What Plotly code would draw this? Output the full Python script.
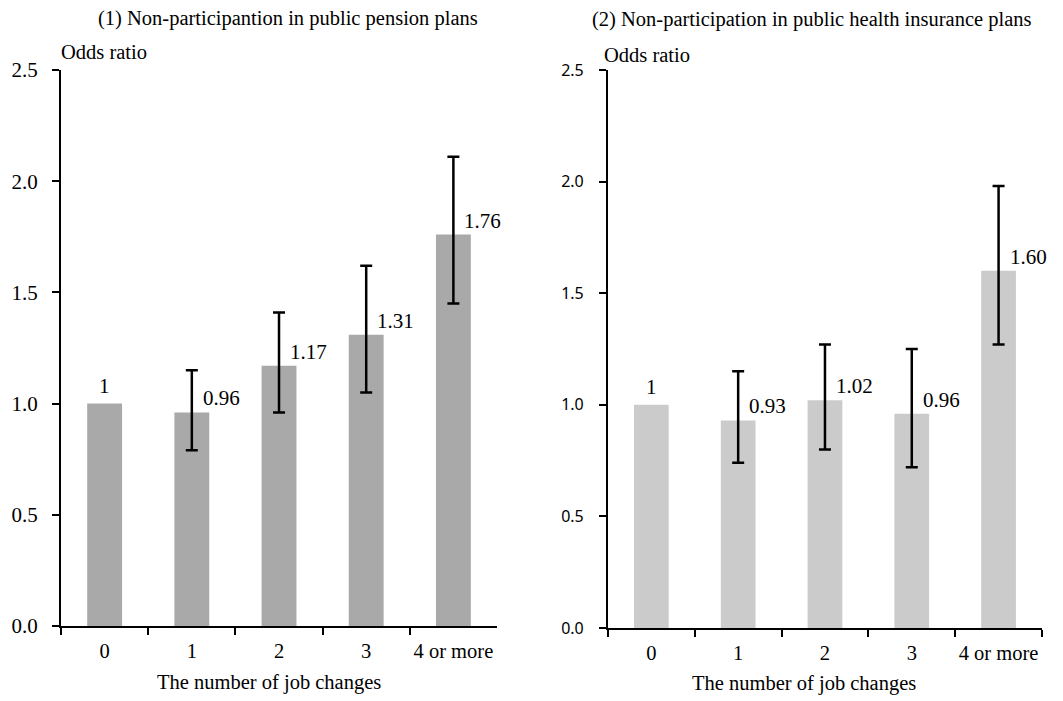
import plotly.graph_objects as go

categories = ["0", "1", "2", "3", "4 or more"]

pension_or = [1.00, 0.96, 1.17, 1.31, 1.76]
pension_hi = [None, 1.15, 1.41, 1.62, 2.11]
pension_lo = [None, 0.79, 0.96, 1.05, 1.45]
pension_labels = ["1", "0.96", "1.17", "1.31", "1.76"]

health_or = [1.00, 0.93, 1.02, 0.96, 1.60]
health_hi = [None, 1.15, 1.27, 1.25, 1.98]
health_lo = [None, 0.74, 0.80, 0.72, 1.27]
health_labels = ["1", "0.93", "1.02", "0.96", "1.60"]

y_ticks = [0.0, 0.5, 1.0, 1.5, 2.0, 2.5]
y_ticktext = ["0.0", "0.5", "1.0", "1.5", "2.0", "2.5"]

titles = ["(1) Non-participantion in public pension plans",
          "(2) Non-participation in public health insurance plans"]

SERIF = "Liberation Serif, Times New Roman, serif"
SANS = "Noto Sans, Liberation Sans, sans-serif"

fig = go.Figure()

panels = [
    (pension_or, pension_hi, pension_lo, pension_labels, "#a9a9a9", "x", "y"),
    (health_or, health_hi, health_lo, health_labels, "#cbcbcb", "x2", "y2"),
]

for vals, hi, lo, labels, color, xa, ya in panels:
    fig.add_trace(go.Bar(
        x=categories, y=vals, xaxis=xa, yaxis=ya,
        marker=dict(color=color, line=dict(width=0)),
        width=0.4, showlegend=False, hoverinfo="skip",
    ))
    ex, ey, ep, em = [], [], [], []
    for c, v, h, l in zip(categories, vals, hi, lo):
        if h is not None:
            ex.append(c)
            ey.append(v)
            ep.append(round(h - v, 4))
            em.append(round(v - l, 4))
    fig.add_trace(go.Scatter(
        x=ex, y=ey, xaxis=xa, yaxis=ya, mode="markers",
        marker=dict(size=1, opacity=0),
        error_y=dict(type="data", array=ep, arrayminus=em, symmetric=False,
                     color="black", thickness=2.5, width=6),
        showlegend=False, hoverinfo="skip",
    ))
    for i, (c, v, t) in enumerate(zip(categories, vals, labels)):
        if i == 0:
            fig.add_annotation(x=c, y=v, xref=xa, yref=ya, text=t, showarrow=False,
                               xanchor="center", yanchor="middle", yshift=18,
                               font=dict(family=SERIF, size=21, color="black"))
        else:
            fig.add_annotation(x=c, y=v, xref=xa, yref=ya, text=t, showarrow=False,
                               xanchor="left", yanchor="middle", xshift=9, yshift=14,
                               font=dict(family=SERIF, size=21, color="black"))

xcommon = dict(type="category", showline=True, linecolor="black", linewidth=2,
               ticks="outside", ticklen=7, tickwidth=2, tickcolor="black",
               tickson="boundaries", showgrid=False, zeroline=False, tickangle=0,
               tickfont=dict(family=SERIF, size=20.5, color="black"),
               ticklabelstandoff=5, range=[-0.5, 4.5], automargin=False)
ycommon = dict(range=[0, 2.5], tickvals=y_ticks, ticktext=y_ticktext,
               showline=True, linecolor="black", linewidth=2,
               ticks="outside", ticklen=7, tickwidth=1.5, tickcolor="black",
               showgrid=False, zeroline=False, automargin=False)

fig.update_layout(
    width=1063, height=701,
    margin=dict(l=0, r=0, t=0, b=0),
    paper_bgcolor="white", plot_bgcolor="white",
    xaxis=dict(domain=[0.0499, 0.4600], anchor="y", **xcommon),
    xaxis2=dict(domain=[0.5644, 0.9727], anchor="y2", **xcommon),
    yaxis=dict(domain=[0.1184, 0.9116], anchor="x", ticklabelstandoff=10,
               tickfont=dict(family=SERIF, size=21, color="black"), **ycommon),
    yaxis2=dict(domain=[0.1155, 0.9116], anchor="x2", ticklabelstandoff=12,
                tickfont=dict(family=SANS, size=16, color="black"), **ycommon),
)

serif_big = dict(family=SERIF, size=20.5, color="black")
# Panel titles
fig.add_annotation(x=0.2634, y=0.9857, xref="paper", yref="paper", text=titles[0],
                   showarrow=False, xanchor="center", yanchor="middle", font=serif_big)
fig.add_annotation(x=0.7563, y=0.9829, xref="paper", yref="paper", text=titles[1],
                   showarrow=False, xanchor="center", yanchor="middle", font=serif_big)
# Y-axis labels
fig.add_annotation(x=0.0480, y=0.9372, xref="paper", yref="paper", text="Odds ratio",
                   showarrow=False, xanchor="left", yanchor="middle", font=serif_big)
fig.add_annotation(x=0.5588, y=0.9330, xref="paper", yref="paper", text="Odds ratio",
                   showarrow=False, xanchor="left", yanchor="middle", font=serif_big)
# X-axis titles
fig.add_annotation(x=0.2455, y=0.0371, xref="paper", yref="paper", text="The number of job changes",
                   showarrow=False, xanchor="center", yanchor="middle", font=serif_big)
fig.add_annotation(x=0.7488, y=0.0357, xref="paper", yref="paper", text="The number of job changes",
                   showarrow=False, xanchor="center", yanchor="middle", font=serif_big)

fig.write_html("out.html")
